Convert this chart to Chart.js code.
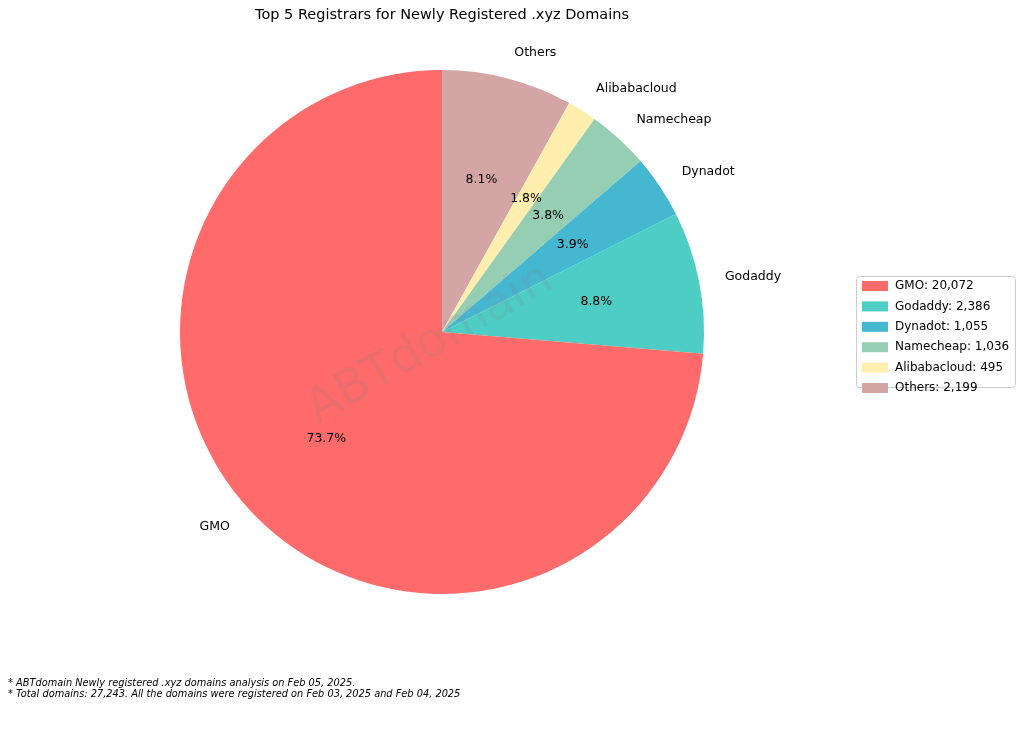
<!DOCTYPE html>
<html><head><meta charset="utf-8">
<script src="https://cdn.jsdelivr.net/npm/chart.js@4"></script>
<style>html,body{margin:0;padding:0;background:#fff}#w{width:1024px;height:731px}</style>
</head><body><div id="w"><canvas id="c" width="1024" height="731"></canvas></div>
<script>
const registrars = ["GMO","Godaddy","Dynadot","Namecheap","Alibabacloud","Others"];
const counts = [20072,2386,1055,1036,495,2199];
const colors = ["#ff6b6b","#4ecdc4","#45b7d1","#96ceb4","#ffeead","#d4a5a5"];
const title = "Top 5 Registrars for Newly Registered .xyz Domains";
const notes = ["* ABTdomain Newly registered .xyz domains analysis on Feb 05, 2025.",
 "* Total domains: 27,243. All the domains were registered on Feb 03, 2025 and Feb 04, 2025"];

const labs = registrars.slice().reverse();
const vals = counts.slice().reverse();
const cols = colors.slice().reverse();
const total = counts.reduce((a,b)=>a+b,0);
const F = "'DejaVu Sans', sans-serif";

const deco = {
 id:'deco',
 afterDatasetsDraw(ch){
  const ctx=ch.ctx, meta=ch.getDatasetMeta(0);
  ctx.save();
  meta.data.forEach((a,i)=>{
   const mid=(a.startAngle+a.endAngle)/2, r=a.outerRadius;
   const lx=a.x+Math.cos(mid)*r*1.1, ly=a.y+Math.sin(mid)*r*1.1;
   ctx.fillStyle='#000'; ctx.font='12.5px '+F; ctx.textBaseline='middle';
   ctx.textAlign=Math.cos(mid)<0?'right':'left';
   ctx.fillText(labs[i],lx,ly);
   const px=a.x+Math.cos(mid)*r*0.6, py=a.y+Math.sin(mid)*r*0.6;
   ctx.textAlign='center';
   ctx.fillText((vals[i]/total*100).toFixed(1)+'%',px,py);
  });
  ctx.translate(430,345); ctx.rotate(-30*Math.PI/180);
  ctx.font='48px '+F; ctx.fillStyle='rgba(128,128,128,0.16)';
  ctx.textAlign='center'; ctx.fillText('ABTdomain',0,0);
  ctx.restore();
  ctx.save();
  ctx.fillStyle='#000'; ctx.font='14.5px '+F; ctx.textAlign='center'; ctx.textBaseline='middle';
  ctx.fillText(title,442,15);
  ctx.font='italic 9.8px '+F; ctx.textAlign='left';
  ctx.fillText(notes[0],8,683); ctx.fillText(notes[1],8,694);
  ctx.strokeStyle='#ccc'; ctx.lineWidth=1; ctx.fillStyle='#fff';
  ctx.beginPath(); ctx.roundRect(856.5,276.5,159,111,3); ctx.fill(); ctx.stroke();
  ctx.font='12px '+F;
  registrars.forEach((n,i)=>{
   const y=286+i*20.4;
   ctx.fillStyle=colors[i]; ctx.fillRect(862,y-5,26,10);
   ctx.fillStyle='#000'; ctx.fillText(n+': '+counts[i].toLocaleString('en-US'),895,y);
  });
  ctx.restore();
 }
};

new Chart(document.getElementById('c'),{
 type:'pie',
 data:{labels:labs,datasets:[{data:vals,backgroundColor:cols,borderWidth:0}]},
 options:{responsive:false,animation:false,
  layout:{padding:{left:180,right:320,top:70,bottom:137}},
  plugins:{legend:{display:false},tooltip:{enabled:false}}},
 plugins:[deco]
});
</script></body></html>
